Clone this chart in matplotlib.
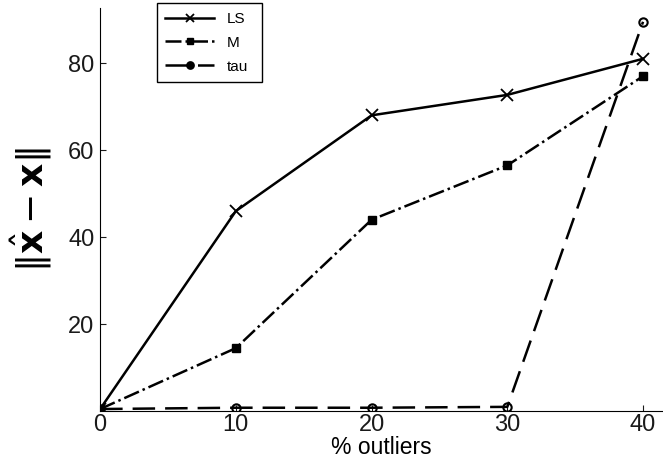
import matplotlib
matplotlib.use('Agg')
import matplotlib.pyplot as plt

plt.rcParams['font.family'] = ['Liberation Sans', 'DejaVu Sans']

outliers = [0, 10, 20, 30, 40]
ls_err = [0.5, 46, 68, 72.7, 81]
m_err = [0.5, 14.5, 44, 56.5, 77]
tau_err = [0.5, 0.8, 0.8, 1.0, 89.5]

fig = plt.figure(figsize=(6.63, 4.61), dpi=100)
ax = fig.add_axes([0.151, 0.108, 0.849, 0.874])

ax.plot(outliers, ls_err, 'k-', marker='x', ms=8, mew=1.3, lw=1.8, label='LS')
ax.plot(outliers, m_err, 'k-.', marker='s', ms=6, mfc='k', lw=1.8, label='M')
ax.plot(outliers, tau_err, 'k', ls=(0, (9, 4)), marker='o', ms=6, mfc='none', mew=1.5,
        lw=1.8, label='tau')

ax.set_xlim(0, 41.47)
ax.set_ylim(0, 92.6)
ax.set_xticks([0, 10, 20, 30, 40])
ax.set_yticks([20, 40, 60, 80])
ax.tick_params(direction='in', length=4, labelsize=17, colors='#1a1a1a', pad=4)
ax.tick_params(axis='x', pad=2)
for s in ['top', 'right']:
    ax.spines[s].set_visible(False)
ax.set_xlabel('% outliers', fontsize=16.5, labelpad=0)
ax.set_ylabel(r'$\|\hat{\mathbf{x}} - \mathbf{x}\|$', fontsize=26, labelpad=10)

leg = ax.legend(loc='upper left', bbox_to_anchor=(0.101, 0.809, 0.187, 0.203),
                mode='expand', fontsize=11, fancybox=False, edgecolor='k',
                framealpha=1, handlelength=3.2, markerscale=0.8, borderpad=0.55,
                labelspacing=0.65, borderaxespad=0)
leg.get_frame().set_linewidth(1.0)
leg.legend_handles[2].set_markerfacecolor('k')

fig.savefig('out.png', dpi=100)
